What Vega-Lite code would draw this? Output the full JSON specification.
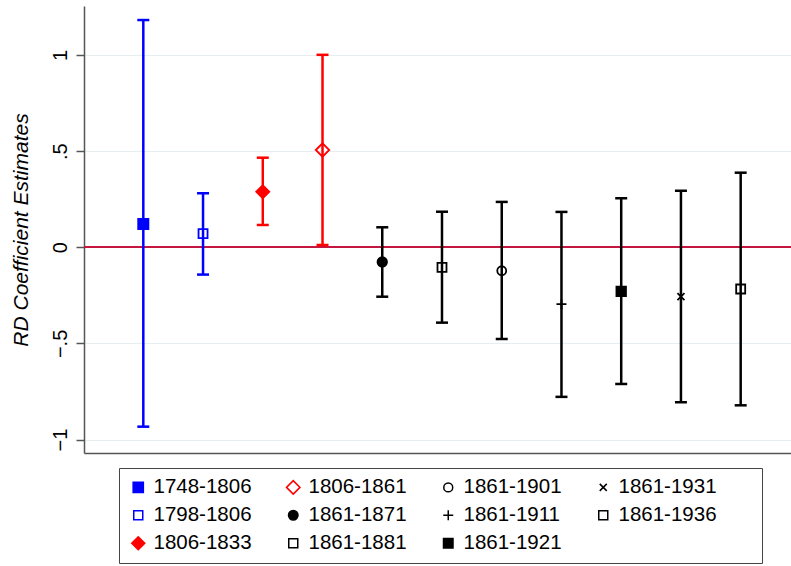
{
  "$schema": "https://vega.github.io/schema/vega-lite/v6.json",
  "width": 707,
  "height": 447,
  "autosize": {"type": "none"},
  "padding": {"left": 84, "top": 6, "right": 0, "bottom": 113},
  "background": "white",
  "config": {
    "view": {"stroke": null},
    "font": "Liberation Sans",
    "legend": {
      "orient": "none",
      "legendX": 35,
      "legendY": 462,
      "columns": 4,
      "direction": "horizontal",
      "padding": 9,
      "strokeColor": "#444",
      "fillColor": "white",
      "labelFontSize": 20.5,
      "labelColor": "black",
      "labelOffset": 5,
      "columnPadding": 31,
      "rowPadding": 7,
      "symbolStrokeWidth": 1.5,
      "titleOrient": "right",
      "titlePadding": 36,
      "titleFontSize": 20
    }
  },
  "data": {
    "values": [
      {"series": "1748-1806", "est": 0.121, "lo": -0.933, "hi": 1.182},
      {"series": "1798-1806", "est": 0.071, "lo": -0.142, "hi": 0.281},
      {"series": "1806-1833", "est": 0.289, "lo": 0.116, "hi": 0.466},
      {"series": "1806-1861", "est": 0.506, "lo": 0.012, "hi": 1.001},
      {"series": "1861-1871", "est": -0.076, "lo": -0.257, "hi": 0.104},
      {"series": "1861-1881", "est": -0.104, "lo": -0.392, "hi": 0.185},
      {"series": "1861-1901", "est": -0.122, "lo": -0.477, "hi": 0.236},
      {"series": "1861-1911", "est": -0.296, "lo": -0.778, "hi": 0.184},
      {"series": "1861-1921", "est": -0.229, "lo": -0.711, "hi": 0.255},
      {"series": "1861-1931", "est": -0.257, "lo": -0.806, "hi": 0.294},
      {"series": "1861-1936", "est": -0.217, "lo": -0.822, "hi": 0.388}
    ]
  },
  "layer": [
    {
      "mark": {"type": "rule", "color": "#c4163f", "strokeWidth": 1.5},
      "encoding": {
        "y": {"datum": 0, "type": "quantitative", "title": "RD Coefficient Estimates"}
      }
    },
    {
      "mark": {"type": "rule", "strokeWidth": 2.5},
      "encoding": {
        "x": {
          "field": "series", "type": "nominal",
          "sort": ["1748-1806","1798-1806","1806-1833","1806-1861","1861-1871","1861-1881","1861-1901","1861-1911","1861-1921","1861-1931","1861-1936"],
          "scale": {"type": "point", "padding": 0.9175, "align": 0.541},
          "axis": {"title": null, "labels": false, "ticks": false, "domain": true, "domainColor": "#555", "domainWidth": 1.5, "grid": false}
        },
        "y": {
          "field": "lo", "type": "quantitative", "title": "RD Coefficient Estimates",
          "scale": {"domain": [-1.07, 1.255], "nice": false, "zero": false},
          "axis": {
            "values": [-1, -0.5, 0, 0.5, 1],
            "labelExpr": "replace(format(datum.value, '.1~f'), '0.', '.')",
            "labelAngle": 270,
            "labelFontSize": 20,
            "labelColor": "black",
            "labelPadding": 6,
            "tickSize": 8,
            "tickColor": "#555",
            "tickWidth": 1.5,
            "domainColor": "#555",
            "domainWidth": 1.5,
            "grid": true,
            "gridColor": "#e6eef2",
            "gridWidth": 1.2,
            "titleFontSize": 21,
            "titleFontStyle": "italic",
            "titleFontWeight": "normal",
            "titleColor": "black",
            "titlePadding": 19
          }
        },
        "y2": {"field": "hi"},
        "stroke": {
          "field": "series", "type": "nominal", "title": " ",
          "scale": {
            "domain": ["1748-1806","1806-1861","1861-1901","1861-1931","1798-1806","1861-1871","1861-1911","1861-1936","1806-1833","1861-1881","1861-1921"],
            "range": ["#0000ff","#ff0000","#000000","#000000","#0000ff","#000000","#000000","#000000","#ff0000","#000000","#000000"]
          }
        }
      }
    },
    {
      "mark": {"type": "rule", "strokeWidth": 2.5, "xOffset": -6, "x2Offset": 6},
      "encoding": {
        "x": {"field": "series", "type": "nominal"},
        "x2": {"field": "series"},
        "y": {"field": "lo", "type": "quantitative", "title": "RD Coefficient Estimates"},
        "stroke": {"field": "series", "type": "nominal", "title": " "}
      }
    },
    {
      "mark": {"type": "rule", "strokeWidth": 2.5, "xOffset": -6, "x2Offset": 6},
      "encoding": {
        "x": {"field": "series", "type": "nominal"},
        "x2": {"field": "series"},
        "y": {"field": "hi", "type": "quantitative", "title": "RD Coefficient Estimates"},
        "stroke": {"field": "series", "type": "nominal", "title": " "}
      }
    },
    {
      "mark": {"type": "point", "strokeWidth": 1.8, "opacity": 1},
      "encoding": {
        "x": {"field": "series", "type": "nominal"},
        "y": {"field": "est", "type": "quantitative", "title": "RD Coefficient Estimates"},
        "stroke": {"field": "series", "type": "nominal", "title": " "},
        "fill": {
          "field": "series", "type": "nominal", "title": " ",
          "scale": {
            "domain": ["1748-1806","1806-1861","1861-1901","1861-1931","1798-1806","1861-1871","1861-1911","1861-1936","1806-1833","1861-1881","1861-1921"],
            "range": ["#0000ff","transparent","transparent","transparent","transparent","#000000","transparent","transparent","#ff0000","transparent","#000000"]
          }
        },
        "shape": {
          "field": "series", "type": "nominal", "title": " ",
          "scale": {
            "domain": ["1748-1806","1806-1861","1861-1901","1861-1931","1798-1806","1861-1871","1861-1911","1861-1936","1806-1833","1861-1881","1861-1921"],
            "range": ["square","diamond","circle","M-1,-1L1,1M-1,1L1,-1","square","circle","M-1,0L1,0M0,-1L0,1","square","diamond","square","square"]
          }
        },
        "size": {
          "field": "series", "type": "nominal", "title": " ",
          "scale": {
            "type": "ordinal",
            "domain": ["1748-1806","1806-1861","1861-1901","1861-1931","1798-1806","1861-1871","1861-1911","1861-1936","1806-1833","1861-1881","1861-1921"],
            "range": [104, 180, 80, 49, 81, 90, 100, 81, 170, 81, 90]
          }
        }
      }
    }
  ]
}
